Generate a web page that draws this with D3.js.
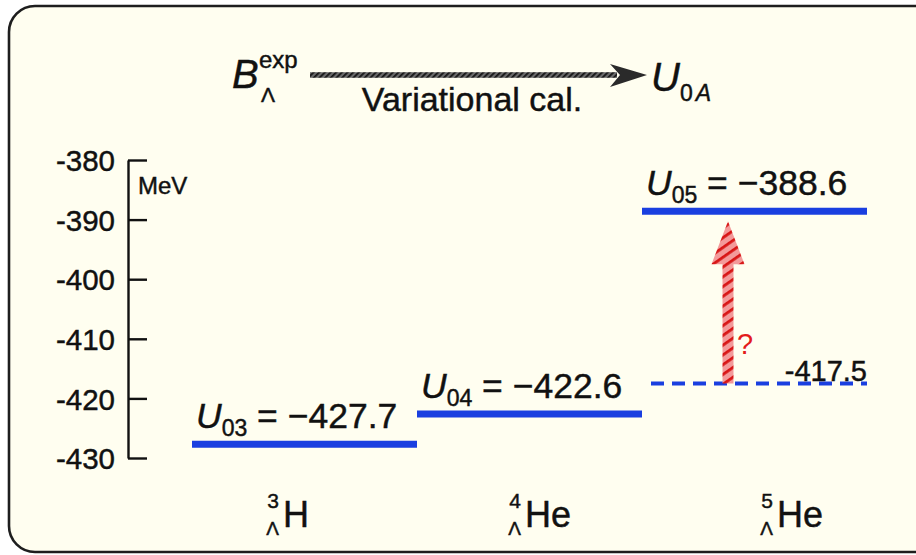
<!DOCTYPE html>
<html>
<head>
<meta charset="utf-8">
<script src="https://cdn.jsdelivr.net/npm/d3@7/dist/d3.min.js"></script>
<style>
  html, body { margin: 0; padding: 0; background: #ffffff; }
  svg { display: block; }
  text { font-family: "Liberation Sans", Arial, Helvetica, sans-serif; fill: #111; }
  .ink { stroke: #111; stroke-width: 0.45px; paint-order: stroke; }
</style>
</head>
<body>
<svg id="chart" width="916" height="555"></svg>
<script>
// Hypernuclei and their Lambda potential depths U0A (MeV)
const nuclei = ["3H", "4He", "5He"];
const massNumbers = ["3", "4", "5"];
const elements = ["H", "He", "He"];
const levelIndex = ["03", "04", "05"];
const levelValues = [-427.7, -422.6, -388.6];
const extrapolated = { nucleus: "5He", value: -417.5 };
const yTicks = [-380, -390, -400, -410, -420, -430];
const yUnit = "MeV";

const svg = d3.select("#chart");
const W = 916, H = 555;
const BLUE = "#1a3fe0";
const RED = "#e31b1b";

// ---- background panel -----------------------------------------------------
svg.append("rect").attr("width", W).attr("height", H).attr("fill", "#ffffff");
svg.append("rect")
  .attr("x", 9).attr("y", 6).attr("width", 940).attr("height", 546)
  .attr("rx", 26).attr("ry", 26)
  .attr("fill", "#fffef0").attr("stroke", "#1e1e1e").attr("stroke-width", 2.6);

// ---- hatch patterns -------------------------------------------------------
const defs = svg.append("defs");
const redHatch = defs.append("pattern")
  .attr("id", "redHatch").attr("patternUnits", "userSpaceOnUse")
  .attr("width", 8).attr("height", 8)
  .attr("patternTransform", "rotate(-35)");
redHatch.append("rect").attr("width", 8).attr("height", 8).attr("fill", "#f39a9a");
redHatch.append("rect").attr("x", 0).attr("y", 0).attr("width", 8).attr("height", 2.8).attr("fill", "#d81616");

const greyHatch = defs.append("pattern")
  .attr("id", "greyHatch").attr("patternUnits", "userSpaceOnUse")
  .attr("width", 4).attr("height", 4)
  .attr("patternTransform", "rotate(-45)");
greyHatch.append("rect").attr("width", 4).attr("height", 4).attr("fill", "#6a6a6a");
greyHatch.append("rect").attr("width", 4).attr("height", 1.8).attr("fill", "#151515");

// ---- scales ---------------------------------------------------------------
const y = d3.scaleLinear().domain([-430, -380]).range([458, 160]);
const x = d3.scaleBand().domain(nuclei).range([192, 867]).padding(0);
const xLabel = d3.scalePoint().domain(nuclei).range([285, 789]);

// ---- y axis (ticks pointing inward, labels on the left) -------------------
const axis = d3.axisLeft(y)
  .tickValues(yTicks)
  .tickSizeInner(-19)
  .tickSizeOuter(0)
  .tickPadding(13)
  .tickFormat(d3.format("d"));

const gAxis = svg.append("g").attr("transform", "translate(128,0)").call(axis);
gAxis.select(".domain").attr("stroke", "#111").attr("stroke-width", 2.4);
gAxis.selectAll(".tick line").attr("stroke", "#111").attr("stroke-width", 2.4);
gAxis.selectAll(".tick text")
  .attr("class", "ink")
  .attr("font-size", 29.5)
  .attr("font-family", "Liberation Sans, Arial, sans-serif")
  .attr("fill", "#111")
  .attr("dy", "0.36em")
  .text(d => String(d)); // plain hyphen minus

svg.append("text")
  .attr("class", "ink")
  .attr("x", 138).attr("y", 194)
  .attr("font-size", 24)
  .text(yUnit);

// ---- energy levels --------------------------------------------------------
const levels = nuclei.map((n, i) => ({ n, idx: levelIndex[i], v: levelValues[i] }));
const fmt = d3.format(".1f"); // uses the true minus sign

svg.append("g").selectAll("line")
  .data(levels).join("line")
  .attr("x1", d => x(d.n)).attr("x2", d => x(d.n) + x.bandwidth())
  .attr("y1", d => y(d.v)).attr("y2", d => y(d.v))
  .attr("stroke", BLUE).attr("stroke-width", 7);

const lbl = svg.append("g").selectAll("text")
  .data(levels).join("text")
  .attr("class", "ink")
  .attr("x", d => x(d.n) + 4)
  .attr("y", d => y(d.v) - 16)
  .attr("font-size", 35.5);
lbl.append("tspan").attr("font-style", "italic").text("U");
lbl.append("tspan").attr("font-size", 23).attr("dy", 8).text(d => d.idx);
lbl.append("tspan").attr("dy", -8).text(d => " = " + fmt(d.v));

// extrapolated level (dashed)
const ex0 = x(extrapolated.nucleus);
svg.append("line")
  .attr("x1", ex0 + 9).attr("x2", ex0 + x.bandwidth())
  .attr("y1", y(extrapolated.value)).attr("y2", y(extrapolated.value))
  .attr("stroke", BLUE).attr("stroke-width", 4)
  .attr("stroke-dasharray", "13,8");

svg.append("text")
  .attr("class", "ink")
  .attr("x", ex0 + x.bandwidth()).attr("y", y(extrapolated.value) - 3)
  .attr("text-anchor", "end")
  .attr("font-size", 29)
  .text(String(extrapolated.value));

// red arrow from extrapolated value up to U05
const target = levelValues[nuclei.indexOf(extrapolated.nucleus)];
const ax = ex0 + 86;
const yBase = y(extrapolated.value), yTip = y(target) + 10;
const shaftW = 11, headW = 33, headL = 43;
const arrowPath = d3.path();
arrowPath.moveTo(ax - shaftW / 2, yBase);
arrowPath.lineTo(ax - shaftW / 2, yTip + headL);
arrowPath.lineTo(ax - headW / 2, yTip + headL);
arrowPath.lineTo(ax, yTip);
arrowPath.lineTo(ax + headW / 2, yTip + headL);
arrowPath.lineTo(ax + shaftW / 2, yTip + headL);
arrowPath.lineTo(ax + shaftW / 2, yBase);
arrowPath.closePath();
svg.append("path").attr("d", arrowPath.toString()).attr("fill", "url(#redHatch)");

svg.append("text")
  .attr("x", ax + 9).attr("y", y(-412.5))
  .attr("font-size", 29).style("fill", RED)
  .text("?");

// ---- nucleus labels -------------------------------------------------------
nuclei.forEach((n, i) => {
  const g = svg.append("g").attr("class", "ink");
  const el = g.append("text").attr("y", 527).attr("font-size", 36).text(elements[i]);
  const w = el.node().getComputedTextLength();
  const x0 = xLabel(n) - (22 + w) / 2;
  el.attr("x", x0 + 22);
  g.append("text").attr("x", x0 + 18).attr("y", 535).attr("text-anchor", "end")
    .attr("font-size", 19).text("\u039B");
  g.append("text").attr("x", x0 + 18).attr("y", 508).attr("text-anchor", "end")
    .attr("font-size", 21).text(massNumbers[i]);
});

// ---- header: B_Lambda^exp --(variational calc.)--> U_0A -------------------
const hdr = svg.append("g");
hdr.append("text").attr("class", "ink").attr("x", 232).attr("y", 88).attr("font-size", 40)
  .attr("font-style", "italic").text("B");
hdr.append("text").attr("class", "ink").attr("x", 259).attr("y", 68).attr("font-size", 24).text("exp");
hdr.append("text").attr("class", "ink").attr("x", 261).attr("y", 102).attr("font-size", 21).text("\u039B");

const shaftY = 75;
const aStart = 310, aTip = 647;
hdr.append("rect")
  .attr("x", aStart).attr("y", shaftY - 2.8).attr("width", aTip - aStart - 30).attr("height", 5.6)
  .attr("fill", "url(#greyHatch)");
const head = d3.path();
head.moveTo(aTip, shaftY);
head.lineTo(610, shaftY - 11);
head.lineTo(620, shaftY);
head.lineTo(610, shaftY + 12);
head.closePath();
hdr.append("path").attr("d", head.toString()).attr("fill", "#2a2a2a");

hdr.append("text").attr("class", "ink").attr("x", 472).attr("y", 111).attr("font-size", 34)
  .attr("text-anchor", "middle").text("Variational cal.");

const u0a = hdr.append("text").attr("class", "ink").attr("x", 651).attr("y", 91).attr("font-size", 40);
u0a.append("tspan").attr("font-style", "italic").text("U");
u0a.append("tspan").attr("font-size", 23).attr("dy", 10).text("0");
u0a.append("tspan").attr("font-size", 23).attr("font-style", "italic").attr("dx", 3).text("A");
</script>
</body>
</html>
